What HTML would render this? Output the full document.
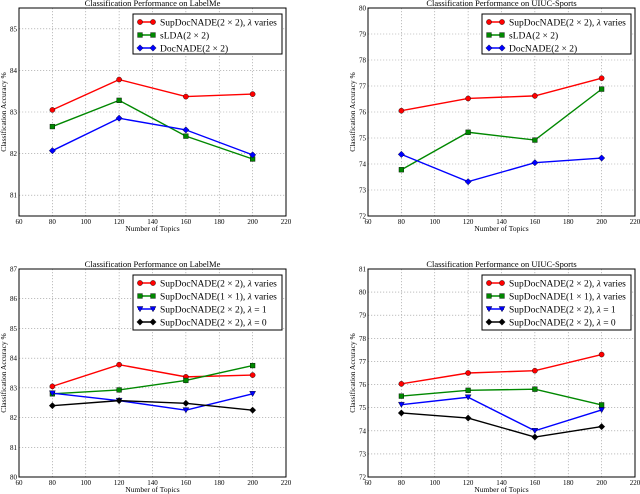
<!DOCTYPE html><html><head><style>body{margin:0;background:#fff}svg{display:block}</style></head><body>
<svg id="s" width="640" height="494" xmlns="http://www.w3.org/2000/svg" font-family="Liberation Serif, serif"></svg>
<script>
var S=document.getElementById('s'),h='';
var C={r:'#f00',g:'#080',b:'#00f',k:'#000'};
function mk(t,x,y,c){if(t=='o')return '<circle cx="'+x+'" cy="'+y+'" r="2.6" fill="'+c+'" stroke="#000" stroke-width="0.4"/>';
if(t=='s')return '<rect x="'+(x-2.4)+'" y="'+(y-2.4)+'" width="4.8" height="4.8" fill="'+c+'" stroke="#000" stroke-width="0.4"/>';
if(t=='d')return '<polygon points="'+x+','+(y-3.2)+' '+(x+3.2)+','+y+' '+x+','+(y+3.2)+' '+(x-3.2)+','+y+'" fill="'+c+'" stroke="#000" stroke-width="0.4"/>';
if(t=='v')return '<polygon points="'+(x-3)+','+(y-2.5)+' '+(x+3)+','+(y-2.5)+' '+x+','+(y+2.8)+'" fill="'+c+'" stroke="#000" stroke-width="0.4"/>';}
function panel(o){var x0=o.x0,x1=x0+267,y0=o.y0,y1=y0+208;
function X(v){return x0+(v-60)/160*267}function Y(v){return y1-(v-o.ymin)/(o.ymax-o.ymin)*208}
for(var v=80;v<=200;v+=20)h+='<line x1="'+X(v)+'" x2="'+X(v)+'" y1="'+y0+'" y2="'+y1+'" stroke="#999" stroke-width="0.6" stroke-dasharray="1.2,1.8"/>';
o.yt.forEach(function(v){h+='<line x1="'+x0+'" x2="'+x1+'" y1="'+Y(v)+'" y2="'+Y(v)+'" stroke="#999" stroke-width="0.6" stroke-dasharray="1.2,1.8"/>';
h+='<text x="'+(x0-2)+'" y="'+(Y(v)+2.5)+'" font-size="7" text-anchor="end">'+v+'</text>';});
for(var v=60;v<=220;v+=20)h+='<text x="'+X(v)+'" y="'+(y1+8)+'" font-size="7" text-anchor="middle">'+v+'</text>';
h+='<text x="'+((x0+x1)/2)+'" y="'+(y1+15)+'" font-size="7.5" text-anchor="middle">Number of Topics</text>';
h+='<text transform="translate('+(x0-13)+','+((y0+y1)/2)+') rotate(-90)" font-size="7.5" text-anchor="middle">Classification Accuracy %</text>';
h+='<text x="'+((x0+x1)/2)+'" y="'+(y0-2)+'" font-size="8.5" text-anchor="middle">'+o.title+'</text>';
var xs=[80,120,160,200];
o.s.forEach(function(s){var p=xs.map(function(x,i){return X(x)+','+Y(s.d[i])}).join(' ');
h+='<polyline points="'+p+'" fill="none" stroke="'+C[s.c]+'" stroke-width="1.4"/>';
xs.forEach(function(x,i){h+=mk(s.m,X(x),Y(s.d[i]),C[s.c])});});
var lx=x0+114,ly=y0+6,lh=o.s.length==3?40:55;
h+='<rect x="'+lx+'" y="'+ly+'" width="149" height="'+lh+'" fill="#fff" stroke="#000" stroke-width="1"/>';
o.s.forEach(function(s,i){var yy=ly+8+i*13;h+='<line x1="'+(lx+5)+'" x2="'+(lx+22)+'" y1="'+yy+'" y2="'+yy+'" stroke="'+C[s.c]+'" stroke-width="1.4"/>'+mk(s.m,lx+7,yy,C[s.c])+mk(s.m,lx+20,yy,C[s.c]);
h+='<text x="'+(lx+27)+'" y="'+(yy+3.5)+'" font-size="9.5">'+s.l+'</text>';});
h+='<rect x="'+x0+'" y="'+y0+'" width="267" height="208" fill="none" stroke="#000" stroke-width="1"/>';}
var L1='SupDocNADE(2 × 2), <tspan font-style="italic">λ</tspan> varies';
panel({x0:19,y0:8,ymin:80.5,ymax:85.5,yt:[81,82,83,84,85],title:'Classification Performance on LabelMe',s:[
{c:'r',m:'o',l:L1,d:[83.05,83.78,83.37,83.43]},{c:'g',m:'s',l:'sLDA(2 × 2)',d:[82.65,83.28,82.42,81.87]},{c:'b',m:'d',l:'DocNADE(2 × 2)',d:[82.07,82.85,82.57,81.97]}]});
panel({x0:368,y0:8,ymin:72,ymax:80,yt:[72,73,74,75,76,77,78,79,80],title:'Classification Performance on UIUC-Sports',s:[
{c:'r',m:'o',l:L1,d:[76.05,76.52,76.62,77.3]},{c:'g',m:'s',l:'sLDA(2 × 2)',d:[73.78,75.22,74.92,76.88]},{c:'b',m:'d',l:'DocNADE(2 × 2)',d:[74.37,73.32,74.05,74.23]}]});
var L2='SupDocNADE(1 × 1), <tspan font-style="italic">λ</tspan> varies',L3='SupDocNADE(2 × 2), <tspan font-style="italic">λ</tspan> = 1',L4='SupDocNADE(2 × 2), <tspan font-style="italic">λ</tspan> = 0';
panel({x0:19,y0:269,ymin:80,ymax:87,yt:[80,81,82,83,84,85,86,87],title:'Classification Performance on LabelMe',s:[
{c:'r',m:'o',l:L1,d:[83.05,83.78,83.37,83.43]},{c:'g',m:'s',l:L2,d:[82.8,82.93,83.25,83.75]},{c:'b',m:'v',l:L3,d:[82.82,82.57,82.25,82.8]},{c:'k',m:'d',l:L4,d:[82.4,82.57,82.48,82.25]}]});
panel({x0:368,y0:269,ymin:72,ymax:81,yt:[72,73,74,75,76,77,78,79,80,81],title:'Classification Performance on UIUC-Sports',s:[
{c:'r',m:'o',l:L1,d:[76.03,76.5,76.6,77.3]},{c:'g',m:'s',l:L2,d:[75.5,75.75,75.8,75.12]},{c:'b',m:'v',l:L3,d:[75.13,75.45,74.0,74.9]},{c:'k',m:'d',l:L4,d:[74.77,74.55,73.73,74.18]}]});
S.innerHTML=h;
</script></body></html>
